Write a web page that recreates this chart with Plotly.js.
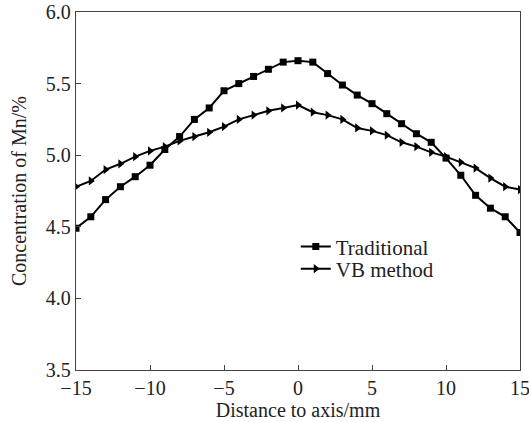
<!DOCTYPE html>
<html>
<head>
<meta charset="utf-8">
<script src="https://cdn.plot.ly/plotly-3.0.1.min.js"></script>
<style>html,body{margin:0;padding:0;background:#fff;}#chart{width:529px;height:422px;}</style>
</head>
<body>
<div id="chart"></div>
<script>
var distance = [-15,-14,-13,-12,-11,-10,-9,-8,-7,-6,-5,-4,-3,-2,-1,0,1,2,3,4,5,6,7,8,9,10,11,12,13,14,15];
var traditional = [4.49,4.57,4.69,4.78,4.85,4.93,5.04,5.13,5.25,5.33,5.45,5.50,5.55,5.60,5.65,5.66,5.65,5.57,5.49,5.42,5.36,5.29,5.22,5.15,5.09,4.98,4.86,4.72,4.63,4.57,4.46];
var vbMethod = [4.78,4.82,4.90,4.94,4.99,5.03,5.06,5.10,5.13,5.16,5.20,5.25,5.28,5.31,5.33,5.35,5.30,5.28,5.25,5.19,5.17,5.14,5.09,5.06,5.02,4.99,4.95,4.91,4.84,4.78,4.76];
var seriesNames = ["Traditional", "VB method"];
var xTicks = [-15,-10,-5,0,5,10,15];
var yTicks = [3.5,4.0,4.5,5.0,5.5,6.0];

var font = "'Liberation Serif', 'Times New Roman', serif";
var traces = [
  {x: distance, y: traditional, name: seriesNames[0], mode: "lines+markers", type: "scatter",
   legend: "legend",
   line: {color: "#000", width: 2}, marker: {symbol: "square", size: 7, color: "#000"}},
  {x: distance, y: vbMethod, name: seriesNames[1], mode: "lines+markers", type: "scatter",
   legend: "legend2",
   line: {color: "#000", width: 2}, marker: {symbol: "triangle-right", size: 8, color: "#000"}}
];
var axisCommon = {showline: true, mirror: true, linecolor: "#444", linewidth: 1.3,
  ticks: "inside", ticklen: 5, tickcolor: "#444", showgrid: false, zeroline: false,
  ticklabeloverflow: "allow",
  tickfont: {family: font, size: 20, color: "#222"}};
var legendCommon = {xanchor: "left", yanchor: "middle", bgcolor: "rgba(0,0,0,0)",
  font: {family: font, size: 21, color: "#222"}, itemwidth: 30};
var layout = {
  width: 529, height: 422,
  margin: {l: 76, r: 9, t: 12, b: 52},
  paper_bgcolor: "#fff", plot_bgcolor: "#fff",
  font: {family: font, color: "#222"},
  xaxis: Object.assign({}, axisCommon, {range: [-15, 15], tickvals: xTicks, autorange: false,
    title: {text: "Distance to axis/mm", font: {family: font, size: 20, color: "#222"}, standoff: 0}}),
  yaxis: Object.assign({}, axisCommon, {range: [3.5, 6.0], tickvals: yTicks, tickformat: ".1f",
    title: {text: "Concentration of Mn/%", font: {family: font, size: 20, color: "#222"}, standoff: 13}}),
  showlegend: true,
  legend: Object.assign({}, legendCommon, {x: 0.495, y: 0.344}),
  legend2: Object.assign({}, legendCommon, {x: 0.495, y: 0.282})
};
Plotly.newPlot("chart", traces, layout, {displayModeBar: false, staticPlot: true});
</script>
</body>
</html>
